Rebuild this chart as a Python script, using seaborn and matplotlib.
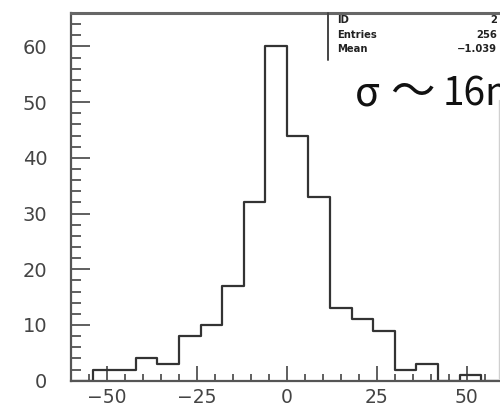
import numpy as np
import matplotlib
matplotlib.use("Agg")
import matplotlib.pyplot as plt
from matplotlib.lines import Line2D
from matplotlib.ticker import MultipleLocator
import seaborn as sns

# ---- data ----
bin_edges = list(range(-60, 61, 6))
counts = [0, 2, 2, 4, 3, 8, 10, 17, 32, 60, 44, 33, 13, 11, 9, 2, 3, 0, 1, 0]
x_ticks = [-50, -25, 0, 25, 50]
y_ticks = [0, 10, 20, 30, 40, 50, 60]
stat_names = ["ID", "Entries", "Mean"]
stat_values = ["2", "256", "\u22121.039"]
annot_sigma = "\u03c3"
annot_tilde = "\u301c"
annot_value = "16mm"

centers = [(bin_edges[i] + bin_edges[i + 1]) / 2 for i in range(len(counts))]

sns.set_theme(style="ticks")
plt.rcParams['font.family'] = ['DejaVu Sans']

W, H = 500, 407
fig = plt.figure(figsize=(W / 100, H / 100), dpi=100)
ax = fig.add_axes([71 / W, (H - 380.7) / H, (502.7 - 71) / W, (380.7 - 13) / H])

sns.histplot(x=centers, weights=counts, bins=bin_edges, element="step",
             fill=False, color="#333333", linewidth=1.6, ax=ax)

ax.set_xlim(-60, 60)
ax.set_ylim(0, 66)
ax.set_xlabel("")
ax.set_ylabel("")
ax.set_xticks(x_ticks)
ax.set_yticks(y_ticks)
ax.xaxis.set_minor_locator(MultipleLocator(5))
ax.yaxis.set_minor_locator(MultipleLocator(2))
ax.tick_params(axis="both", which="both", direction="in", color="#444444",
               width=1.2, labelcolor="#444444", labelsize=14)
ax.tick_params(axis="x", which="major", length=11, pad=5, labelsize=13.5)
ax.tick_params(axis="x", which="minor", length=5)
ax.tick_params(axis="y", which="major", length=14, pad=17)
ax.tick_params(axis="y", which="minor", length=7)
for s in ax.spines.values():
    s.set_color("#555555")
    s.set_linewidth(1.6)
ax.spines["top"].set_linewidth(2.2)
ax.spines["top"].set_color("#666666")

# stats box fragment
fig.add_artist(Line2D([328 / W, 328 / W], [1 - 13 / H, 1 - 60 / H], color="#444444", lw=1.4))
for i, (n, v) in enumerate(zip(stat_names, stat_values)):
    yy = 1 - (20 + 14.5 * i) / H
    fig.text(337 / W, yy, n, fontsize=7.2, fontweight="bold", color="#222222", va="center", ha="left")
    fig.text(497 / W, yy, v, fontsize=7.2, fontweight="bold", color="#222222", va="center", ha="right")

# faint border line at the right
fig.add_artist(Line2D([499 / W, 499 / W], [1 - 100 / H, 1 - 378 / H], color="#d0d0d0", lw=1.0))

cjk = ["Noto Sans CJK JP", "DejaVu Sans"]
fig.text(355 / W, 1 - 105 / H, annot_sigma, fontsize=29, color="#111111",
         family=cjk, va="baseline", ha="left")
fig.text(412 / W, 1 - 93 / H, annot_tilde, fontsize=32, color="#111111",
         family=cjk, va="center", ha="center")
fig.text(443 / W, 1 - 105 / H, annot_value, fontsize=28, color="#111111",
         family=cjk, va="baseline", ha="left")

fig.savefig("out.png", dpi=100)
